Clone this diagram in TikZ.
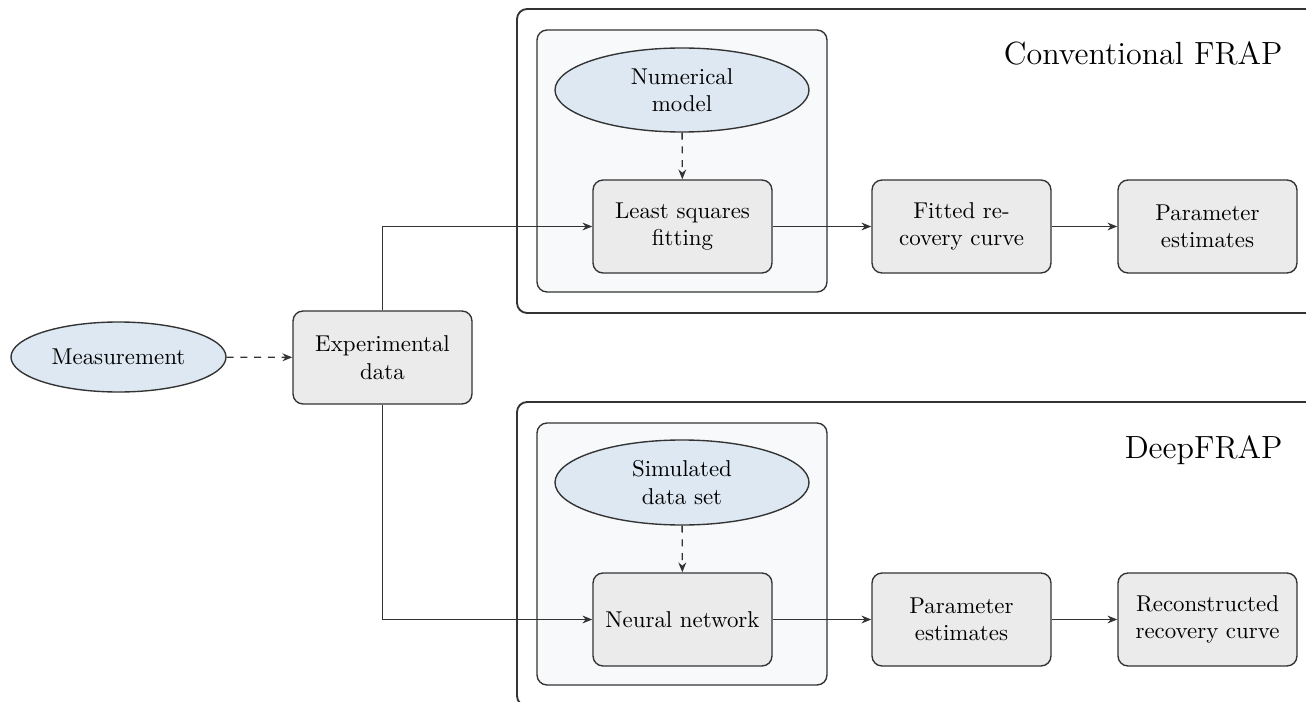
\documentclass[tikz,border=0pt]{standalone}
\usetikzlibrary{arrows.meta,shapes.geometric}
\definecolor{ellfill}{HTML}{DDE8F2}
\definecolor{boxfill}{HTML}{EBEBEB}
\definecolor{panelfill}{HTML}{F8F9FB}
\definecolor{linecol}{HTML}{333333}
\def\pxu{0.43668pt}
\begin{document}
\begin{tikzpicture}[x=0.43668pt,y=-0.43668pt,
  proc/.style={draw=linecol, fill=boxfill, rounded corners=4.4pt, minimum width=179*\pxu, minimum height=93*\pxu, align=center, inner sep=0pt, line width=0.6pt},
  src/.style={ellipse, draw=linecol, fill=ellfill, align=center, inner sep=0pt, line width=0.6pt},
  conn/.style={draw=linecol, line width=0.6pt, -{Stealth[length=4.3pt,width=3.4pt]}},
  dconn/.style={conn, dashed},
  outerpanel/.style={draw=linecol, fill=white, line width=0.8pt, rounded corners=4.4pt},
  innerpanel/.style={draw=linecol, fill=panelfill, line width=0.6pt, rounded corners=4.4pt},
  paneltitle/.style={anchor=base east, inner sep=0pt, font=\fontsize{14pt}{16pt}\selectfont}
]
\useasboundingbox (0,0) rectangle (1306,702);
\clip (0,0) rectangle (1306,702);

% panels
\draw[outerpanel] (517,9) rectangle (1340,313);
\draw[innerpanel] (537,30) rectangle (827,292);
\draw[outerpanel] (517,402) rectangle (1340,706);
\draw[innerpanel] (537,423) rectangle (827,685);

\node[paneltitle] (t1) at (1283,65) {Conventional FRAP};
\node[paneltitle] (t2) at (1283,458) {DeepFRAP};

% nodes
\node[src, minimum width=215*\pxu, minimum height=70*\pxu] (meas) at (118.5,357) {Measurement};
\node[proc] (exp) at (382.5,357.5) {Experimental\\data};

\node[src, minimum width=254*\pxu, minimum height=84*\pxu] (num) at (682,90) {Numerical\\model};
\node[proc] (lsq) at (682.5,226.5) {Least squares\\fitting};
\node[proc] (fit) at (961.5,226.5) {Fitted re-\\covery curve};
\node[proc] (par1) at (1207.5,226.5) {Parameter\\estimates};

\node[src, minimum width=254*\pxu, minimum height=85*\pxu] (sim) at (682,482.5) {Simulated\\data set};
\node[proc] (nn) at (682.5,619.5) {Neural network};
\node[proc] (par2) at (961.5,619.5) {Parameter\\estimates};
\node[proc] (rec) at (1207.5,619.5) {Reconstructed\\recovery curve};

% connectors
\draw[dconn] (meas) -- (exp);
\draw[conn] (exp.north) |- (lsq.west);
\draw[conn] (exp.south) |- (nn.west);
\draw[dconn] (num) -- (lsq);
\draw[conn] (lsq) -- (fit);
\draw[conn] (fit) -- (par1);
\draw[dconn] (sim) -- (nn);
\draw[conn] (nn) -- (par2);
\draw[conn] (par2) -- (rec);
\end{tikzpicture}
\end{document}
